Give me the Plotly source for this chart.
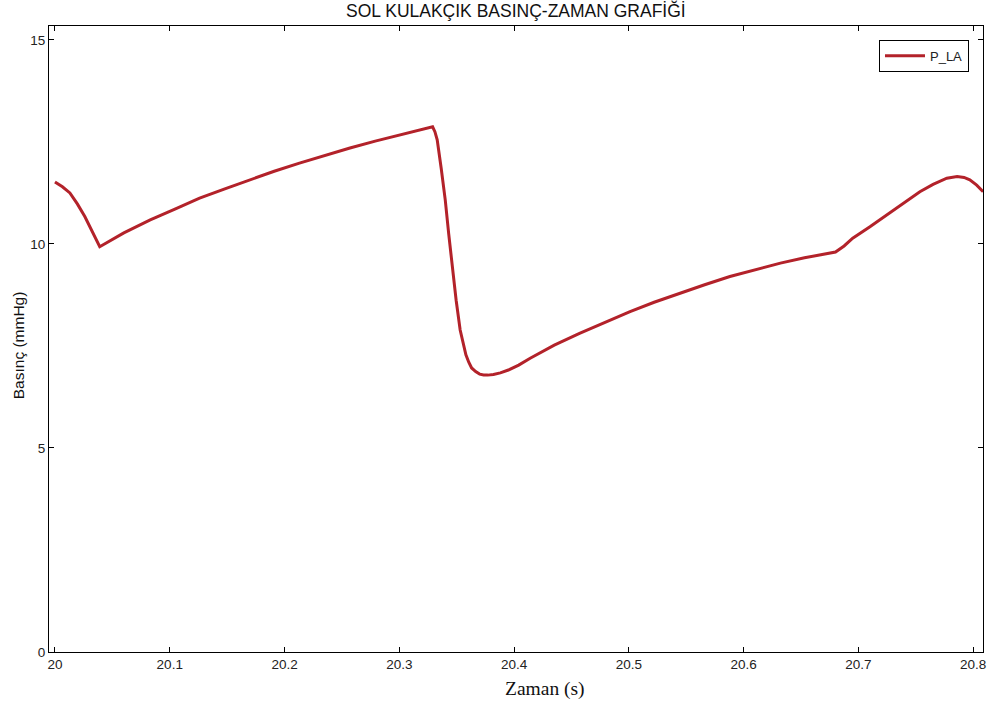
import plotly.graph_objects as go

# Data
time_s = [20.000, 20.0065, 20.013, 20.0195, 20.026, 20.0325, 20.039,
          20.060, 20.083, 20.105, 20.126, 20.148, 20.170, 20.191, 20.213,
          20.235, 20.257, 20.279, 20.301, 20.315, 20.327, 20.329,
          20.331, 20.333, 20.3365, 20.340, 20.343, 20.346, 20.3495, 20.353,
          20.3555, 20.358, 20.3605, 20.363, 20.3665, 20.370, 20.3735, 20.377,
          20.382, 20.388, 20.395, 20.404, 20.414, 20.435, 20.457, 20.479,
          20.501, 20.522, 20.544, 20.566, 20.588, 20.610, 20.632, 20.653,
          20.675, 20.680, 20.6875, 20.695, 20.710, 20.7245, 20.739, 20.7535,
          20.765, 20.777, 20.786, 20.792, 20.797, 20.803, 20.8086]
p_la = [11.52, 11.40, 11.25, 10.98, 10.67, 10.31, 9.93,
        10.27, 10.59, 10.86, 11.12, 11.35, 11.57, 11.78, 11.98,
        12.17, 12.35, 12.52, 12.67, 12.77, 12.86, 12.87,
        12.75, 12.55, 11.85, 11.08, 10.25, 9.44, 8.62, 7.89,
        7.55, 7.28, 7.10, 6.96, 6.87, 6.81, 6.79, 6.785,
        6.80, 6.84, 6.91, 7.03, 7.20, 7.52, 7.81, 8.08,
        8.34, 8.57, 8.79, 9.00, 9.20, 9.37, 9.53, 9.66,
        9.77, 9.80, 9.95, 10.14, 10.42, 10.71, 11.00, 11.28,
        11.46, 11.61, 11.65, 11.63, 11.57, 11.44, 11.28]

x_ticks = [20.0, 20.1, 20.2, 20.3, 20.4, 20.5, 20.6, 20.7, 20.8]
x_tick_labels = ["20", "20.1", "20.2", "20.3", "20.4", "20.5", "20.6", "20.7", "20.8"]
y_ticks = [0, 5, 10, 15]
y_tick_labels = ["0", "5", "10", "15"]

title_text = "SOL KULAKÇIK BASINÇ-ZAMAN GRAFİĞİ"
x_title = "Zaman (s)"
y_title = "Basınç (mmHg)"
series_name = "P_LA"

fig = go.Figure()
fig.add_trace(go.Scatter(
    x=time_s, y=p_la, mode="lines", name=series_name,
    line=dict(color="#B3222A", width=3),
))

axis_common = dict(
    showline=True, linecolor="black", linewidth=1, mirror="ticks",
    ticks="inside", ticklen=5, tickcolor="black", tickwidth=1,
    showgrid=False, zeroline=False, automargin=False,
    tickfont=dict(family="Liberation Sans, Arial", size=13.5, color="#222"),
)

fig.update_layout(
    width=996, height=711,
    margin=dict(l=49, r=13, t=26, b=59),
    paper_bgcolor="white", plot_bgcolor="white",
    showlegend=True,
    legend=dict(
        x=0.985, y=0.978, xanchor="right", yanchor="top",
        bordercolor="black", borderwidth=1, bgcolor="white",
        tracegroupgap=0, itemwidth=40,
        font=dict(family="Liberation Sans, Arial", size=13, color="#222"),
    ),
    xaxis=dict(range=[19.9948, 20.8085], tickvals=x_ticks, ticktext=x_tick_labels,
               ticklabelstandoff=0, **axis_common),
    yaxis=dict(range=[0, 15.34], tickvals=y_ticks, ticktext=y_tick_labels,
               ticklabelstandoff=0, **axis_common),
    annotations=[
        dict(text=title_text, xref="paper", yref="paper", x=0.5, y=1.0,
             yshift=3, xanchor="center", yanchor="bottom", showarrow=False,
             font=dict(family="Liberation Sans, Arial", size=17.5, color="#111")),
        dict(text=x_title, xref="paper", yref="paper", x=0.531, y=0,
             yshift=-24, xanchor="center", yanchor="top", showarrow=False,
             font=dict(family="Liberation Serif, Times New Roman", size=19.5, color="#111")),
        dict(text=y_title, xref="paper", yref="paper", x=0, y=0.49,
             xshift=-31, xanchor="center", yanchor="middle", showarrow=False,
             textangle=-90,
             font=dict(family="Liberation Sans, Arial", size=15.5, color="#111")),
    ],
)

fig.write_html("out.html", config={"displayModeBar": False},
               post_script="document.body.style.margin='0';")
